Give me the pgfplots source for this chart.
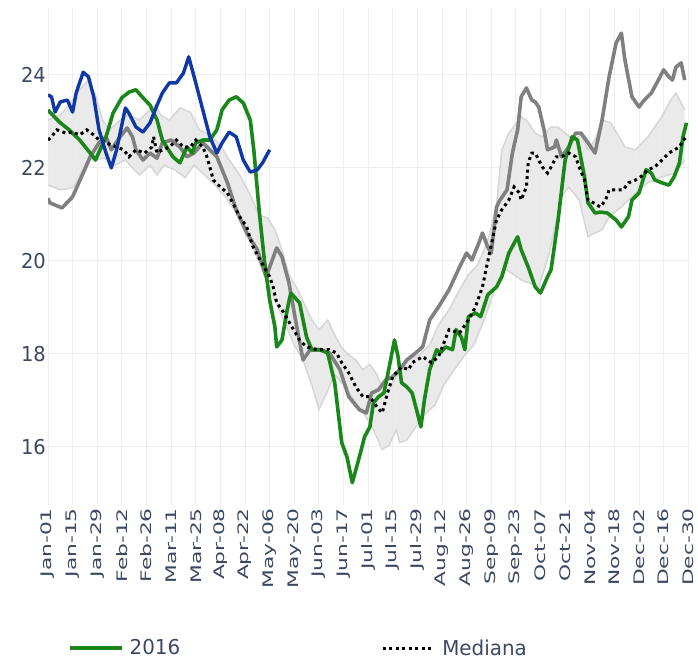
\documentclass[border=0pt]{standalone}
\usepackage{pgfplots}
\pgfplotsset{compat=1.18}
\usepgfplotslibrary{fillbetween}
\usepackage{fontspec}
\setmainfont{DejaVu Sans}
\newfontfamily\hfont[FakeStretch=0.95]{DejaVu Sans}
\newfontfamily\lfont[FakeStretch=0.97]{DejaVu Sans}
\newfontfamily\vfont[FakeStretch=1.5]{DejaVu Sans}
\definecolor{cgreen}{RGB}{25,135,25}
\definecolor{cblue}{RGB}{15,55,165}
\definecolor{cgray}{RGB}{128,128,128}
\definecolor{bandfill}{RGB}{232,232,232}
\definecolor{bandedge}{RGB}{214,214,214}
\definecolor{gridc}{RGB}{236,238,243}
\definecolor{tickc}{RGB}{60,72,98}

\pgfplotstableread{
x y
1 23.25
2 23.20
8 22.97
13 22.82
19 22.60
25 22.32
28 22.17
30 22.34
34 22.67
38 23.18
43 23.51
47 23.63
51 23.68
55 23.51
59 23.35
63 23.03
66 22.60
72 22.24
76 22.11
80 22.45
83 22.32
85 22.54
89 22.60
93 22.60
97 22.82
100 23.25
104 23.46
108 23.53
112 23.40
116 23.03
118 22.39
121 21.10
124 20.02
127 19.16
130 18.58
131 18.15
134 18.30
137 18.95
139 19.31
144 19.10
148 18.36
151 18.09
156 18.09
160 18.02
164 17.38
168 16.09
171 15.78
174 15.23
178 15.78
181 16.22
184 16.43
186 16.95
189 17.08
192 17.16
195 17.72
198 18.30
200 17.94
202 17.38
205 17.29
208 17.16
211 16.73
213 16.43
215 17.01
218 17.66
222 18.09
224 18.02
227 18.15
231 18.09
233 18.52
236 18.36
238 18.09
240 18.80
244 18.88
247 18.80
251 19.27
256 19.44
259 19.66
263 20.17
268 20.52
270 20.24
274 19.87
278 19.44
281 19.31
285 19.66
287 19.81
291 20.88
295 22.17
299 22.67
302 22.60
306 21.81
308 21.25
312 21.03
315 21.05
319 21.03
324 20.88
327 20.73
331 20.95
333 21.31
337 21.46
341 21.96
344 21.89
346 21.74
350 21.68
354 21.63
357 21.81
360 22.11
362 22.67
364 22.97
}\green

\pgfplotstableread{
x y
1 23.57
3 23.53
5 23.20
8 23.42
12 23.46
15 23.20
17 23.61
21 24.06
24 23.96
27 23.53
30 22.82
34 22.32
37 22.00
40 22.39
45 23.29
47 23.18
51 22.88
55 22.77
59 22.97
63 23.35
66 23.61
70 23.83
74 23.83
78 24.04
81 24.39
85 23.83
89 23.25
93 22.67
97 22.32
100 22.54
104 22.77
108 22.67
112 22.17
116 21.91
120 21.96
123 22.11
127 22.39
}\blue

\pgfplotstableread{
x y
1 21.35
2 21.25
9 21.14
15 21.38
21 21.89
25 22.24
30 22.54
34 22.67
37 22.39
42 22.67
46 22.86
49 22.67
51 22.39
55 22.17
59 22.32
63 22.21
66 22.54
71 22.60
76 22.45
80 22.24
84 22.32
89 22.54
93 22.39
97 22.24
103 21.68
108 21.10
114 20.60
120 20.24
125 19.66
131 20.28
134 20.09
138 19.53
142 18.67
146 17.87
150 18.09
155 18.09
161 18.02
167 17.66
172 17.08
178 16.80
182 16.73
185 17.16
189 17.23
193 17.44
197 17.51
201 17.66
205 17.87
210 18.02
214 18.15
218 18.73
223 19.01
229 19.38
235 19.87
239 20.17
242 20.02
246 20.39
248 20.60
251 20.30
253 20.17
256 21.16
258 21.31
262 21.53
265 22.32
268 22.82
270 23.53
273 23.72
276 23.46
278 23.42
280 23.31
283 22.82
285 22.39
289 22.45
290 22.60
293 22.24
297 22.45
301 22.75
304 22.75
308 22.54
312 22.32
316 23.03
320 23.96
324 24.69
327 24.90
329 24.32
333 23.53
337 23.31
340 23.46
344 23.61
348 23.89
351 24.11
354 23.96
356 23.89
358 24.17
361 24.26
363 23.89
}\grayyear

\pgfplotstableread{
x y
1 22.60
3 22.67
6 22.82
11 22.75
15 22.77
19 22.71
23 22.82
27 22.71
30 22.60
34 22.54
40 22.45
44 22.39
47 22.24
51 22.39
56 22.32
60 22.45
61 22.67
63 22.32
66 22.39
70 22.45
74 22.60
78 22.45
82 22.45
85 22.60
89 22.45
91 22.28
93 22.02
95 21.74
99 21.59
103 21.46
106 21.25
110 20.95
114 20.73
117 20.35
121 20.06
127 19.66
129 19.44
131 19.10
134 18.95
144 18.30
148 18.15
154 18.09
161 18.09
165 18.02
168 17.81
172 17.59
176 17.29
180 17.08
184 17.08
188 16.86
191 16.73
194 17.16
197 17.51
202 17.72
206 17.66
208 17.81
214 17.94
219 17.81
223 17.94
229 18.52
235 18.45
240 18.73
244 19.01
248 19.44
250 19.81
256 20.88
259 21.10
263 21.31
266 21.59
269 21.46
270 21.31
273 21.59
274 22.11
276 22.32
278 22.32
280 22.17
282 22.02
285 21.89
287 22.02
290 22.24
293 22.24
297 22.32
301 22.24
303 22.02
306 21.74
308 21.31
311 21.25
315 21.16
318 21.31
320 21.53
324 21.53
328 21.53
331 21.68
335 21.74
338 21.81
342 21.96
346 22.02
350 22.17
354 22.32
357 22.39
360 22.45
362 22.60
364 22.65
}\median

\pgfplotstableread{
x y
1 23.03
8 23.14
13 23.35
19 23.68
24 23.89
28 23.57
32 23.03
36 22.82
42 23.03
47 23.14
53 23.03
59 23.25
62 23.35
65 23.14
70 23.03
76 23.29
82 23.20
87 22.82
93 22.71
99 22.49
104 22.17
110 21.85
116 21.42
121 20.99
126 20.92
130 20.67
134 20.24
138 19.70
143 19.38
147 19.05
151 18.73
155 18.52
160 18.73
164 18.41
168 18.13
172 17.98
176 17.87
180 17.66
184 17.77
188 17.55
191 17.27
194 17.18
198 17.44
201 17.66
206 17.87
212 17.98
218 18.19
223 18.62
229 18.95
235 19.38
240 19.70
245 19.91
249 20.24
252 20.56
256 21.20
259 22.39
263 22.75
270 23.10
273 23.03
278 22.75
282 22.67
287 22.88
291 22.88
295 22.75
300 22.60
304 22.71
308 22.39
312 22.60
316 23.03
321 22.97
325 22.71
329 22.45
335 22.39
342 22.67
350 23.10
355 23.46
358 23.61
363 23.25
}\bandup

\pgfplotstableread{
x y
1 21.63
8 21.53
12 21.55
16 21.60
20 21.90
24 22.20
28 22.17
33 22.21
39 22.06
45 22.17
50 21.96
53 21.85
59 22.06
63 21.85
67 22.06
73 21.96
79 21.79
84 22.06
90 21.85
96 21.63
101 21.42
107 21.10
113 20.67
118 20.24
124 19.70
130 19.16
135 18.73
141 18.19
146 17.87
151 17.33
155 16.80
159 17.12
164 17.55
169 17.33
175 17.01
181 16.69
186 16.37
191 15.94
195 16.04
199 16.37
201 16.09
205 16.15
209 16.37
215 16.69
221 16.90
226 17.33
232 17.66
238 17.98
243 18.19
249 18.73
255 19.38
260 19.85
266 19.70
270 19.59
280 19.44
286 20.17
293 21.38
297 21.59
303 21.31
308 20.52
312 20.60
316 20.67
320 20.95
327 21.16
335 21.46
342 21.68
350 21.81
358 21.89
363 22.17
}\bandlo

\begin{document}
\begin{tikzpicture}
\begin{axis}[
  at={(0pt,0pt)}, anchor=south west,
  scale only axis, width=642pt, height=497pt,
  xmin=1, xmax=366, ymin=14.75, ymax=25.44,
  axis line style={draw=none},
  major tick length=0pt,
  grid=major, grid style={color=gridc, line width=1pt},
  xtick={1,15,...,365},
  xticklabels={Jan-01,Jan-15,Jan-29,Feb-12,Feb-26,Mar-11,Mar-25,Apr-08,Apr-22,May-06,May-20,Jun-03,Jun-17,Jul-01,Jul-15,Jul-29,Aug-12,Aug-26,Sep-09,Sep-23,Oct-07,Oct-21,Nov-04,Nov-18,Dec-02,Dec-16,Dec-30},
  ytick={16,18,20,22,24},
  /pgf/number format/assume math mode=true,
  xticklabel style={rotate=90, anchor=east, font=\vfont\fontsize{14.5}{15}\selectfont, text=tickc, inner sep=0pt, xshift=-3pt},
  yticklabel style={font=\hfont\fontsize{20.5}{22}\selectfont, text=tickc, inner sep=0pt, xshift=-2pt},
  legend columns=2,
  legend style={draw=none, fill=none, at={(axis description cs:0.031,-0.288)}, anchor=west,
    font=\lfont\fontsize{20.5}{22}\selectfont, text=tickc, inner sep=0pt,
    /tikz/every even column/.append style={column sep=199pt}},
  legend image code/.code={\draw[#1] (0pt,0pt) -- (52pt,0pt); \path (56pt,0pt);},
]
\addplot[name path=up, draw=bandedge, line width=1.5pt, forget plot] table {\bandup};
\addplot[name path=lo, draw=bandedge, line width=1.5pt, forget plot] table {\bandlo};
\addplot[fill=bandfill, fill opacity=0.9, forget plot] fill between[of=up and lo];
\addplot[cgray, line width=3.6pt, line join=round, forget plot] table {\grayyear};
\addplot[cgreen, line width=3.6pt, line join=round] table {\green};
\addlegendentry{2016}
\addplot[black, line width=3pt, dash pattern=on 3pt off 3.5pt] table {\median};
\addlegendentry{Mediana}
\addplot[cblue, line width=3.4pt, line join=round, forget plot] table {\blue};
\end{axis}
\pgfresetboundingbox
\useasboundingbox (-48pt,-156pt) rectangle (650pt,505pt);
\end{tikzpicture}
\end{document}
